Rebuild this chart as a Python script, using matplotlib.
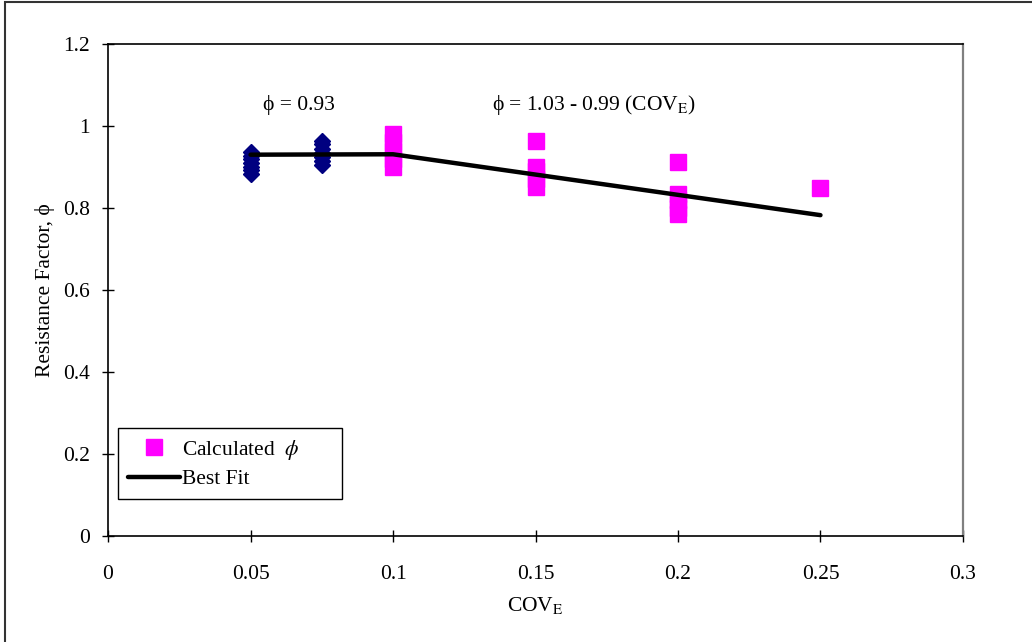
import numpy as np
import matplotlib
matplotlib.use('Agg')
import matplotlib.pyplot as plt
from matplotlib.patches import Rectangle
from matplotlib.ticker import FuncFormatter

plt.rcParams['font.family'] = ['Liberation Serif', 'DejaVu Serif']
plt.rcParams['mathtext.fontset'] = 'stix'

# data
blue_x = [0.05] * 7 + [0.075] * 7
blue_y = [0.883, 0.892, 0.901, 0.910, 0.919, 0.928, 0.937,
          0.905, 0.915, 0.925, 0.935, 0.945, 0.955, 0.964]

calc_x = [0.1] * 5 + [0.15] * 5 + [0.2] * 5 + [0.25]
calc_y = [0.90, 0.92, 0.94, 0.96, 0.98,
          0.85, 0.87, 0.89, 0.90, 0.963,
          0.785, 0.80, 0.82, 0.835, 0.912,
          0.849]

fit_x = [0.05, 0.1, 0.25]
fit_y = [0.93, 1.03 - 0.99 * 0.1, 1.03 - 0.99 * 0.25]

xticks = [0, 0.05, 0.1, 0.15, 0.2, 0.25, 0.3]
yticks = [0, 0.2, 0.4, 0.6, 0.8, 1.0, 1.2]

FS = 15.5

fig = plt.figure(figsize=(10.32, 6.42), dpi=100)
ax = fig.add_axes([0.1047, 0.1651, 0.8284, 0.7664])

ax.plot(blue_x, blue_y, linestyle='none', marker='D', markersize=8.5,
        color='#000080', markeredgecolor='#000080')
ax.plot(calc_x, calc_y, linestyle='none', marker='s', markersize=11,
        color='#ff00ff', markeredgecolor='#ff00ff',
        label=r'Calculated  $\phi$       ')
ax.plot(fit_x, fit_y, color='black', linewidth=3.2, solid_capstyle='round',
        label='Best Fit')

ax.set_xlim(0, 0.3)
ax.set_ylim(0, 1.2)
ax.set_xticks(xticks)
ax.set_yticks(yticks)
fmt = FuncFormatter(lambda v, p: '%g' % round(v, 3))
ax.xaxis.set_major_formatter(fmt)
ax.yaxis.set_major_formatter(fmt)
ax.tick_params(axis='both', direction='inout', length=8, width=1,
               labelsize=FS, colors='black')
ax.tick_params(axis='x', pad=17)
ax.tick_params(axis='y', pad=9)

for side in ['left', 'bottom', 'top']:
    ax.spines[side].set_color('black')
    ax.spines[side].set_linewidth(1.2)
ax.spines['right'].set_color('#808080')
ax.spines['right'].set_linewidth(1.6)

ax.set_xlabel(r'COV$_{\mathrm{E}}$', fontsize=FS, labelpad=8)
ax.set_ylabel('Resistance Factor, ϕ', fontsize=FS, labelpad=6)

ax.text(0.0545, 1.05, 'ϕ = 0.93', fontsize=FS, va='center')
ax.text(0.1347, 1.05, r'ϕ = 1.03 - 0.99 (COV$_{\mathrm{E}}$)', fontsize=FS,
        va='center')

leg = ax.legend(loc='lower left', bbox_to_anchor=(0.012, 0.075),
                fontsize=FS, frameon=True, fancybox=False, edgecolor='black',
                framealpha=1, handlelength=2.4, handletextpad=0.1,
                borderpad=0.45, labelspacing=0.35, borderaxespad=0,
                markerscale=1.05)
leg.get_frame().set_linewidth(1)

# outer frame around the chart
fig.add_artist(Rectangle((0.005, -0.1), 1.2, 1.097, transform=fig.transFigure,
                         fill=False, edgecolor='#333333', linewidth=1.5))

fig.savefig('out.png', dpi=100)
